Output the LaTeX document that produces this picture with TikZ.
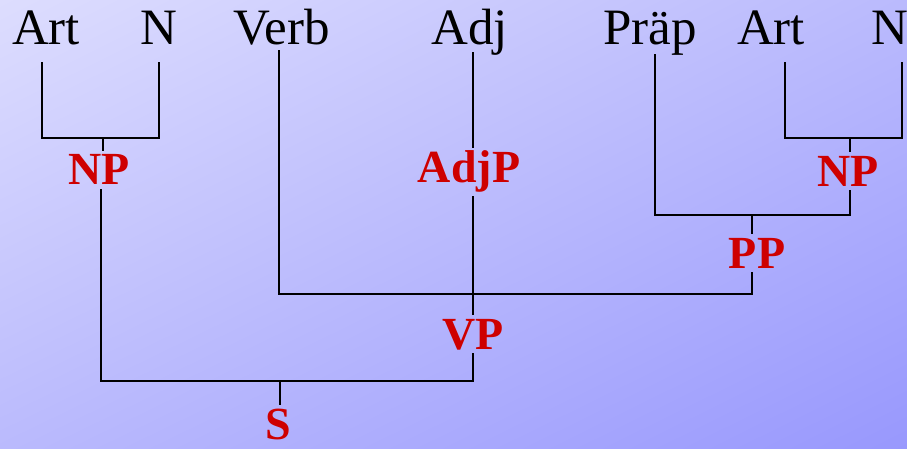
\documentclass[tikz,border=0pt]{standalone}
\usepackage{fontspec}
\setmainfont{Liberation Serif}
\usetikzlibrary{shadings}
\definecolor{bgtl}{RGB}{221,221,254}
\definecolor{bgmid}{RGB}{186,186,253}
\definecolor{bgbr}{RGB}{152,152,253}
\definecolor{catred}{RGB}{206,0,0}
\begin{document}
\begin{tikzpicture}[x=1pt,y=-1pt,
  word/.style={anchor=base,inner sep=0pt,font=\fontsize{51}{53}\selectfont},
  cat/.style={anchor=base,inner xsep=0pt,inner ysep=4pt,text=catred,
    font=\bfseries\fontsize{46}{48}\selectfont},
  branch/.style={line width=1.3pt,black,line cap=rect}]
% background
\shade[upper left=bgtl,lower right=bgbr,upper right=bgmid,lower left=bgmid]
  (0,0) rectangle (907,449);
\useasboundingbox (0,0) rectangle (907,449);

% terminal words
\node[word] (art1) at (46,45) {Art};
\node[word] (n1) at (159,45) {N};
\node[word] (verb) at (281.5,45) {Verb};
\node[word] (adj) at (469.5,45) {Adj};
\node[word] (prap) at (650,45) {Präp};
\node[word] (art2) at (771,45) {Art};
\node[word] (n2) at (890,45) {N};

% phrase labels
\node[cat] (np1) at (99,185) {NP};
\node[cat] (adjp) at (469,183) {AdjP};
\node[cat] (np2) at (848,186) {NP};
\node[cat] (pp) at (757,268) {PP};
\node[cat] (vp) at (473,349) {VP};
\node[cat] (s) at (278,439) {S};

% branch points
\coordinate (art1f) at (42,63);
\coordinate (n1f) at (159,63);
\coordinate (np1j) at (103,138);
\coordinate (np1lo) at (101,381);
\coordinate (verbf) at (279,51);
\coordinate (adjf) at (473,53);
\coordinate (prapf) at (655,55);
\coordinate (art2f) at (785,63);
\coordinate (n2f) at (902,63);
\coordinate (np2j) at (850,138);
\coordinate (ppj) at (752,215);
\coordinate (vpj) at (473,294);
\coordinate (sj) at (280,381);

% NP (left)
\draw[branch] (art1f) -- (art1f |- np1j) -- (n1f |- np1j) -- (n1f);
\draw[branch] (np1j) -- (np1j |- np1.north);
% AdjP
\draw[branch] (adjf) -- (adjf |- adjp.north);
% NP (right)
\draw[branch] (art2f) -- (art2f |- np2j) -- (n2f |- np2j) -- (n2f);
\draw[branch] (np2j) -- (np2j |- np2.north);
% PP
\draw[branch] (np2j |- np2.south) -- (np2j |- ppj) -- (prapf |- ppj) -- (prapf);
\draw[branch] (ppj) -- (ppj |- pp.north);
% VP
\draw[branch] (verbf) -- (verbf |- vpj) -- (ppj |- vpj) -- (ppj |- pp.south);
\draw[branch] (vpj |- adjp.south) -- (vpj |- vp.north);
% S
\draw[branch] (vpj |- vp.south) -- (vpj |- sj) -- (np1lo) -- (np1lo |- np1.south);
\draw[branch] (sj) -- (sj |- s.north);
\end{tikzpicture}
\end{document}
